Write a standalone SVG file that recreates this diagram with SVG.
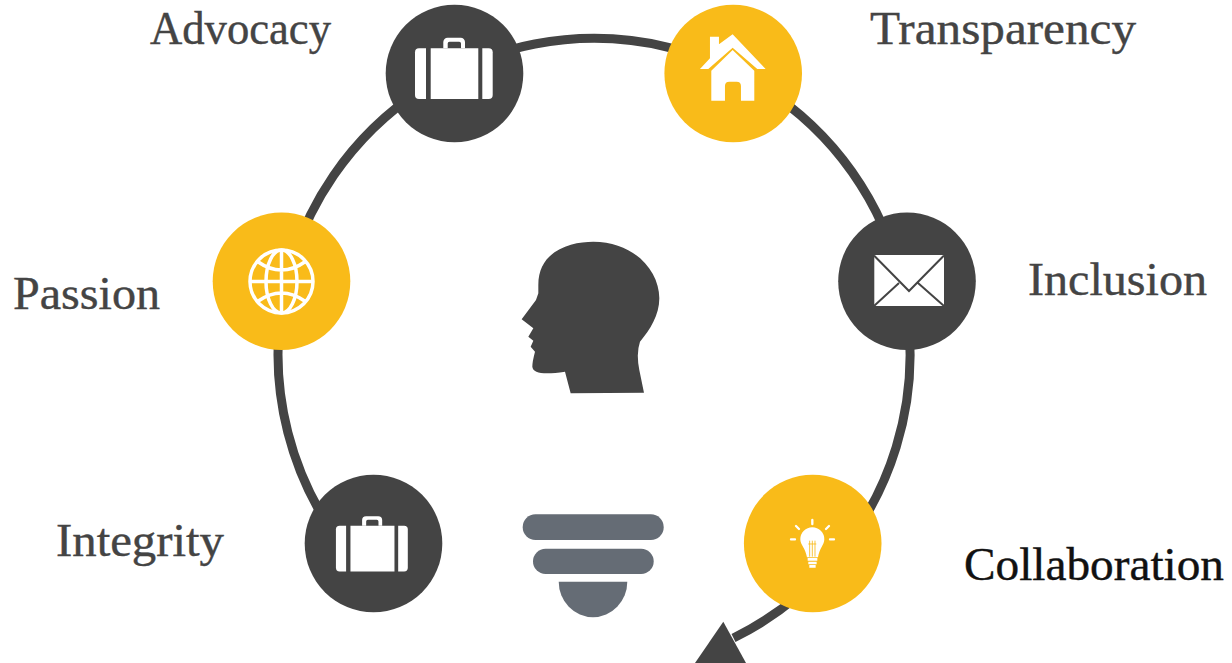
<svg xmlns="http://www.w3.org/2000/svg" width="1232" height="663" viewBox="0 0 1232 663">
<style>
.dark{fill:#444444}
.gold{fill:#F9BB19}
.w{fill:#ffffff}
.wl{fill:none;stroke:#ffffff}
.lbl{font-family:"Liberation Serif","DejaVu Serif",serif;font-size:46px;fill:#444444;stroke:#444444;stroke-width:.4px}
</style>
<defs>
<g id="suitcase">
<path class="w" fill-rule="evenodd" d="M-10.700-24.700V-31a4.300 4.300 0 0 1 4.300-4.300H6.700a4.300 4.300 0 0 1 4.300 4.300V-24.700H7V-29.500a1.800 1.800 0 0 0-1.800-1.800H-4.500a1.800 1.800 0 0 0-1.800 1.800V-24.700Z"/>
<path class="w" d="M-35-24.700H34.700a4 4 0 0 1 4 4V22a4 4 0 0 1-4 4H-35a4 4 0 0 1-4-4V-20.700a4 4 0 0 1 4-4Z"/>
<rect class="dark" x="-28" y="-26" width="4.700" height="53"/>
<rect class="dark" x="24.300" y="-26" width="4" height="53"/>
</g>
</defs>
<rect width="1232" height="663" fill="#ffffff"/>
<g id="connectors">
<path d="M340.500 543A316 316 0 1 1 733.500 638" fill="none" stroke="#444444" stroke-width="9"/>
<polygon class="dark" points="723.300,621.700 746,663 695,663"/>
</g>
<g id="node-advocacy">
<circle class="dark" cx="454.500" cy="73.500" r="68.800"/>
<use href="#suitcase" x="454" y="73"/>
</g>
<g id="node-transparency">
<circle class="gold" cx="733.200" cy="73.500" r="68.800"/>
<g transform="translate(380 0) scale(.3333)">
<path class="w" d="M1058 103L1157 207H1132L1058 143L985 207H960L990 175V110H1017V133Z"/>
<path class="w" d="M1058 150L1123 212V302H1083V258Q1083 245 1070 245H1048Q1035 245 1035 258V302H994V212Z"/>
</g>
</g>
<g id="node-inclusion">
<circle class="dark" cx="907" cy="281.300" r="68.800"/>
<rect class="w" x="874.300" y="255" width="69.700" height="51"/>
<path d="M874 255.500L909 291L944 255.500M874 306L899 283M944 306L918 283" fill="none" stroke="#444444" stroke-width="2"/>
</g>
<g id="node-collaboration">
<circle class="gold" cx="812.700" cy="543.500" r="68.800"/>
<g transform="translate(680 470) scale(.3333)">
<path class="w" d="M397 172A36 36 0 0 1 433 208C433 225 418 235 414 262H381C377 235 361 225 361 208A36 36 0 0 1 397 172Z"/>
<path d="M389 260V212M397 260V212M405 260V212M385 222H409" fill="none" stroke="#F9BB19" stroke-width="2.500"/>
<path class="wl" stroke-width="8" d="M383 268H412M385 279H410M388 289H407"/>
<path class="wl" stroke-width="7" stroke-linecap="round" d="M397 150V162M348 168L357 177M447 168L438 177M333 208H345M450 208H462"/>
</g>
</g>
<g id="node-integrity">
<circle class="dark" cx="373.500" cy="543.500" r="68.800"/>
<use href="#suitcase" transform="translate(372 548) scale(.925 .9)"/>
</g>
<g id="node-passion">
<circle class="gold" cx="281.500" cy="281.300" r="68.800"/>
<g class="wl" stroke-width="3.500" transform="translate(281.500 281.500)">
<circle r="31.500"/>
<ellipse rx="15.500" ry="31.500"/>
<path d="M0-31.500V31.500M-31.500 0H31.500M-24-20Q0-3 24-20M-24 20Q0 3 24 20" fill="none"/>
</g>
</g>
<g id="head">
<path class="dark" transform="translate(500 230) scale(.3333)" d="M212 490L432 488L418 420Q408 370 420 335C450 300 478 255 478 205C478 120 400 35 280 35C215 35 115 60 115 165V190L108 210L65 268L100 295L85 320L100 332L92 350L105 365Q97 395 97 410Q100 440 195 425Z"/>
</g>
<g id="funnel" fill="#656C75">
<rect x="522.700" y="514.300" width="141" height="25.700" rx="12.800"/>
<rect x="533" y="548.700" width="120.700" height="25.300" rx="12.600"/>
<path d="M558.700 581.700H627.300A34.300 35.600 0 0 1 558.700 581.700Z"/>
</g>
<g id="labels">
<text class="lbl" x="150" y="44" textLength="181" lengthAdjust="spacingAndGlyphs">Advocacy</text>
<text class="lbl" x="870" y="44" textLength="266" lengthAdjust="spacingAndGlyphs">Transparency</text>
<text class="lbl" x="13" y="309" textLength="147" lengthAdjust="spacingAndGlyphs">Passion</text>
<text class="lbl" x="1028" y="295" textLength="179" lengthAdjust="spacingAndGlyphs">Inclusion</text>
<text class="lbl" x="56" y="556" textLength="168" lengthAdjust="spacingAndGlyphs">Integrity</text>
<text class="lbl" x="964" y="580" textLength="260" lengthAdjust="spacingAndGlyphs" style="fill:#111111;stroke:#111111">Collaboration</text>
</g>
</svg>
